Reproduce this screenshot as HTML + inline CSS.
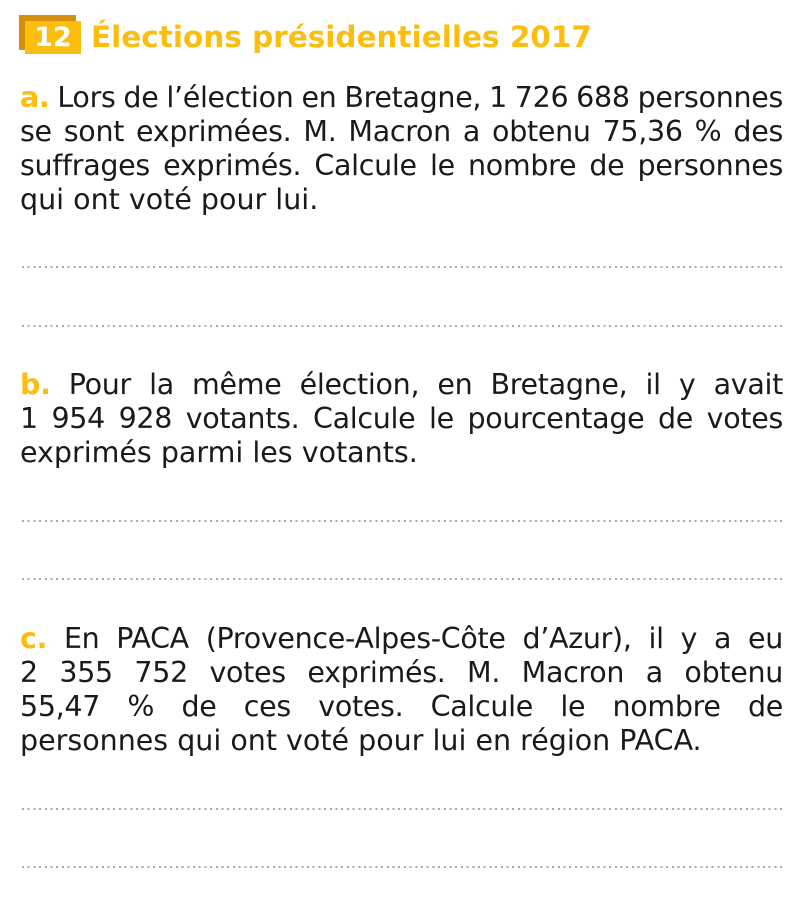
<!DOCTYPE html>
<html><head><meta charset="utf-8"><style>
body{margin:0;width:803px;height:906px;background:#fff;position:relative;overflow:hidden;font-family:"DejaVu Sans","Liberation Sans",sans-serif;color:#1a1a1a}
.sh{position:absolute;left:19px;top:15px;width:57px;height:35px;background:#d4900a}
.bx{position:absolute;left:25px;top:21px;width:56px;height:33px;background:#fbbd0e;color:#fff;font-weight:bold;font-size:27px;line-height:33px;text-align:center}
.title{position:absolute;left:91px;top:17px;font-size:29.5px;font-weight:bold;color:#fbbd0e;line-height:40px;white-space:nowrap}
.p{position:absolute;left:20px;width:763px;font-size:28.5px;line-height:34px;white-space:nowrap}
.p div{text-align:justify;text-align-last:justify;word-spacing:-4px;letter-spacing:-0.3px}
.p div.l{text-align-last:left;word-spacing:0;letter-spacing:0}
.p b{color:#fbbd0e}
.d{position:absolute;left:22px;width:760px;height:2px;background:repeating-linear-gradient(90deg,#aaa 0 2px,transparent 2px 5.7px)}
</style></head><body>
<div class="sh"></div><div class="bx">12</div>
<div class="title">Élections présidentielles 2017</div>
<div class="p" style="top:81px"><div><b>a.</b> Lors de l’élection en Bretagne, 1 726 688 personnes</div><div>se sont exprimées. M. Macron a obtenu 75,36 % des</div><div>suffrages exprimés. Calcule le nombre de personnes</div><div class="l">qui ont voté pour lui.</div></div>
<div class="d" style="top:266px"></div><div class="d" style="top:325px"></div>
<div class="p" style="top:368px"><div><b>b.</b> Pour la même élection, en Bretagne, il y avait</div><div>1 954 928 votants. Calcule le pourcentage de votes</div><div class="l">exprimés parmi les votants.</div></div>
<div class="d" style="top:520px"></div><div class="d" style="top:578px"></div>
<div class="p" style="top:622px"><div><b>c.</b> En PACA (Provence-Alpes-Côte d’Azur), il y a eu</div><div>2 355 752 votes exprimés. M. Macron a obtenu</div><div>55,47 % de ces votes. Calcule le nombre de</div><div class="l">personnes qui ont voté pour lui en région PACA.</div></div>
<div class="d" style="top:808px"></div><div class="d" style="top:866px"></div>
</body></html>
